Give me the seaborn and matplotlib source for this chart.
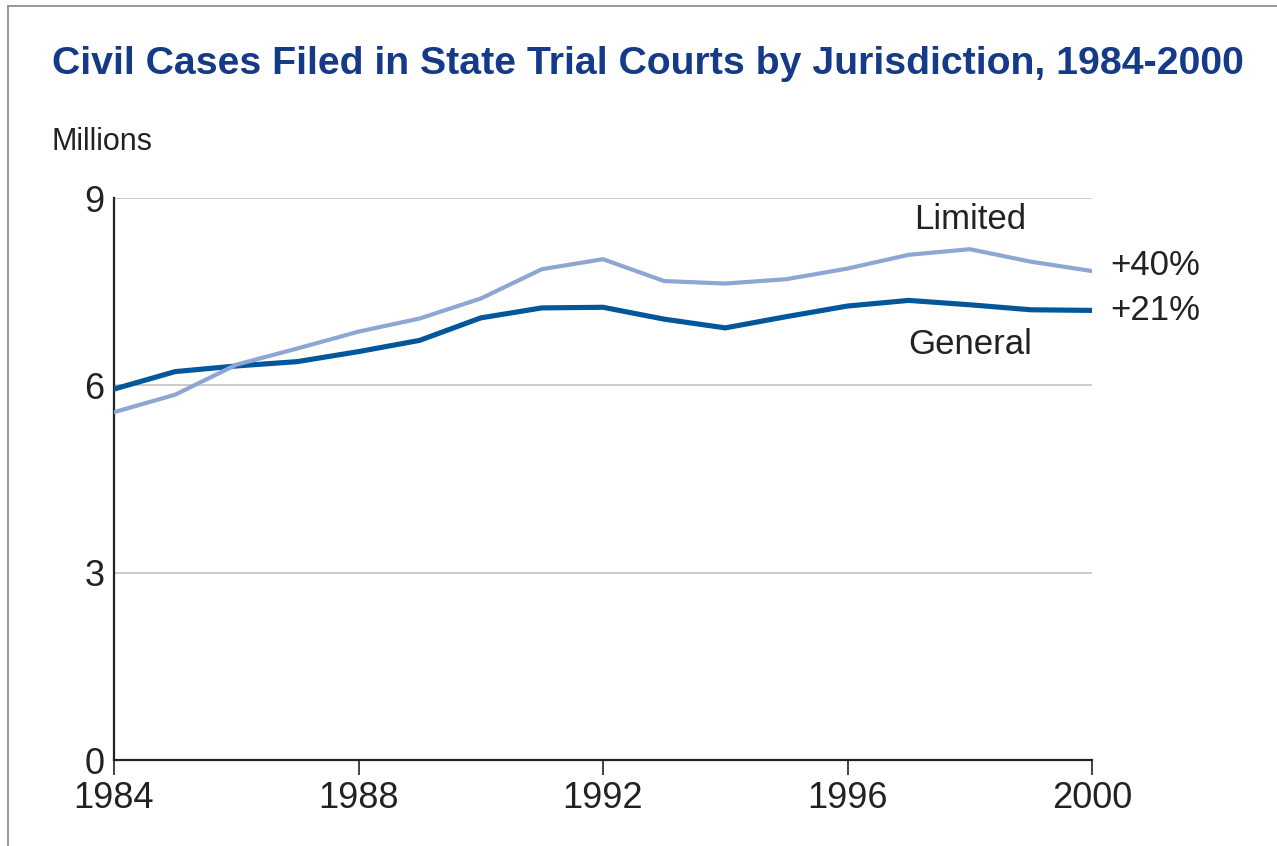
import numpy as np
import pandas as pd
import matplotlib
matplotlib.use("Agg")
import matplotlib.pyplot as plt
import seaborn as sns
from matplotlib.lines import Line2D

years = list(range(1984, 2001))
general = [5.94, 6.22, 6.31, 6.38, 6.54, 6.72, 7.08, 7.24, 7.25, 7.06, 6.92, 7.10, 7.27, 7.36, 7.29, 7.21, 7.20]
limited = [5.57, 5.85, 6.33, 6.59, 6.86, 7.07, 7.39, 7.86, 8.02, 7.67, 7.63, 7.70, 7.87, 8.09, 8.18, 7.98, 7.83]
series_names = ["General", "Limited"]
series_changes = ["+21%", "+40%"]
x_ticks = [1984, 1988, 1992, 1996, 2000]
y_ticks = [0, 3, 6, 9]

title = "Civil Cases Filed in State Trial Courts by Jurisdiction, 1984-2000"
unit_label = "Millions"

df = pd.DataFrame({
    "year": years * 2,
    "value": general + limited,
    "series": ["General"] * len(years) + ["Limited"] * len(years),
})

sns.set_theme(style="white")
plt.rcParams["font.family"] = ["Liberation Sans", "DejaVu Sans"]

W, H = 1277, 846
fig = plt.figure(figsize=(W / 100, H / 100), dpi=100)
fig.patch.set_facecolor("white")
ax = fig.add_axes([114 / W, 1 - 760 / H, (1092 - 114) / W, (760 - 198) / H])

palette = {"General": "#00579B", "Limited": "#8DA7D4"}
widths = {"General": 3.7, "Limited": 3.0}

sns.lineplot(data=df, x="year", y="value", hue="series", palette=palette,
             legend=False, ax=ax, zorder=3)
for line, name in zip(ax.get_lines(), series_names):
    line.set_linewidth(widths[name])
    line.set_solid_joinstyle("miter")

ax.set_xlim(1984, 2000)
ax.set_ylim(0, 9)
ax.set_xticks(x_ticks)
ax.set_yticks(y_ticks)
ax.set_xticklabels([str(t) for t in x_ticks], fontsize=26, color="#222222")
ax.set_yticklabels([str(t) for t in y_ticks], fontsize=26, color="#222222")
ax.set_xlabel("")
ax.set_ylabel("")

for v in y_ticks[1:]:
    ax.axhline(v, color="#C8C8C8", lw=1.3, zorder=1)

for s in ["top", "right"]:
    ax.spines[s].set_visible(False)
for s in ["left", "bottom"]:
    ax.spines[s].set_visible(True)
    ax.spines[s].set_color("#222222")
    ax.spines[s].set_linewidth(1.6)

ax.tick_params(axis="x", which="major", direction="out", length=11, width=1.2,
               color="#222222", pad=4, bottom=True)
ax.tick_params(axis="y", which="major", length=0, pad=7)

# series labels
ax.text(1998, 8.65, "Limited", fontsize=25, color="#222222", ha="center", va="center")
ax.text(1998, 6.65, "General", fontsize=25, color="#222222", ha="center", va="center")
ax.annotate(series_changes[1], xy=(years[-1], limited[-1]), xytext=(13, 4),
            textcoords="offset points", fontsize=25, color="#222222",
            ha="left", va="center", annotation_clip=False)
ax.annotate(series_changes[0], xy=(years[-1], general[-1]), xytext=(13, 0),
            textcoords="offset points", fontsize=25, color="#222222",
            ha="left", va="center", annotation_clip=False)

fig.text(52 / W, 1 - 64 / H, title, fontsize=28.3, fontweight="bold",
         color="#143A88", ha="left", va="center")
fig.text(52 / W, 1 - 142 / H, unit_label, fontsize=22, color="#222222",
         ha="left", va="center")

# frame lines (top and left)
fig.add_artist(Line2D([8 / W, 1], [1 - 6 / H, 1 - 6 / H], transform=fig.transFigure,
                      color="#888888", lw=1.2))
fig.add_artist(Line2D([8 / W, 8 / W], [0, 1 - 6 / H], transform=fig.transFigure,
                      color="#888888", lw=1.2))

fig.savefig("out.png", dpi=100, facecolor="white")
